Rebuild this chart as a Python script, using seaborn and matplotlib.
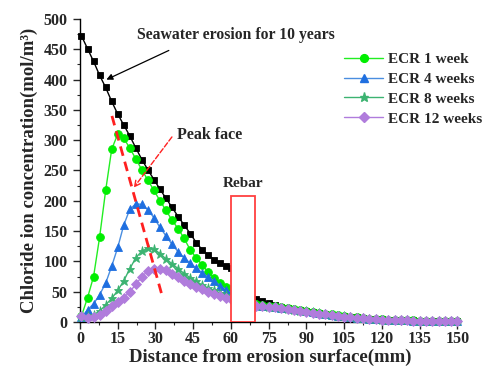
import matplotlib
matplotlib.use("Agg")
import matplotlib.pyplot as plt
import seaborn as sns
import pandas as pd
import numpy as np
from matplotlib.ticker import MultipleLocator
from matplotlib.patches import Rectangle

# ---------------- data ----------------
x_front = [0.6, 3.0, 5.4, 7.8, 10.2, 12.6, 15.0, 17.4, 19.8, 22.2, 24.6, 27.0, 29.4,
           31.8, 34.2, 36.6, 39.0, 41.4, 43.8, 46.2, 48.6, 51.0, 53.4, 55.8, 58.2, 60.0]
x_back = [70, 72.5, 75, 77.5, 80, 82.5, 85, 87.5, 90, 92.5, 95, 97.5, 100, 102.5, 105,
          107.5, 110, 112.5, 115, 117.5, 120, 122.5, 125, 127.5, 130, 132.5, 135, 137.5,
          140, 142.5, 145, 147.5, 150]

sea_front = [472, 451, 430, 407, 387, 364, 343, 325, 307, 287, 268, 251, 235,
             219, 204, 189, 174, 160, 146, 131, 119, 110, 103, 97, 92, 89]
sea_back = [38, 35, 31, 28, 25, 22.5, 20.5, 19, 17.5, 16, 14.5, 13.5, 12, 10.5, 9.5,
            8.5, 7.5, 6.5, 5.5, 5, 4.5, 4, 3.5, 3.2, 2.9, 2.6, 2.4, 2.2, 2, 1.9, 1.8, 1.7, 1.6]

w1_front = [10, 40, 75, 140, 217, 285, 310, 303, 287, 269, 251, 234, 217,
            200, 184, 168, 154, 138, 119, 106, 94, 82, 72, 64, 58, 55]
w1_back = [29, 28, 27, 26, 24.5, 23, 21.5, 20, 18.5, 17, 15.5, 14, 12.5, 11, 9.8,
           8.6, 7.6, 6.6, 5.6, 5, 4.4, 3.9, 3.4, 3.1, 2.8, 2.5, 2.3, 2.1, 1.9, 1.8, 1.7, 1.6, 1.5]

w4_front = [8, 20, 30, 45, 64, 92, 123, 160, 186, 195, 194, 185, 172,
            156, 142, 128, 116, 106, 97, 89, 81, 74, 67, 60, 53, 48]
w4_back = [28, 27, 26, 25, 23.8, 22.3, 20.8, 19.3, 17.8, 16.3, 14.8, 13.5, 12, 10.5, 9.4,
           8.3, 7.3, 6.3, 5.3, 4.8, 4.2, 3.7, 3.2, 2.9, 2.6, 2.3, 2.1, 1.9, 1.7, 1.6, 1.5, 1.4, 1.3]

w8_front = [8, 10, 12, 18, 28, 39, 52, 68, 88, 106, 117, 122, 120,
            113, 104, 96, 88, 80, 73, 67, 61, 56, 52, 48, 45, 43]
w8_back = [27.5, 26.5, 25.5, 24.5, 23.4, 21.9, 20.4, 18.9, 17.4, 15.9, 14.4, 13.3, 11.8, 10.3, 9.2,
           8.2, 7.2, 6.2, 5.2, 4.6, 4.1, 3.6, 3.1, 2.9, 2.6, 2.3, 2.1, 1.9, 1.7, 1.6, 1.5, 1.4, 1.3]

w12_front = [10, 6, 8, 12, 18, 26, 33, 40, 50, 62, 75, 84, 88,
             88, 85, 80, 74, 68, 63, 58, 54, 50, 46, 43, 40, 38]
w12_back = [27, 26, 25, 24, 23, 21.5, 20, 18.5, 17, 15.5, 14, 13, 11.5, 10, 9,
            8, 7, 6, 5, 4.5, 4, 3.5, 3, 2.8, 2.5, 2.2, 2, 1.8, 1.6, 1.5, 1.4, 1.3, 1.2]

series_names = ["Seawater erosion for 10 years", "ECR 1 week", "ECR 4 weeks",
                "ECR 8 weeks", "ECR 12 weeks"]
fronts = [sea_front, w1_front, w4_front, w8_front, w12_front]
backs = [sea_back, w1_back, w4_back, w8_back, w12_back]

rebar_x = [60, 69.5]
rebar_top = 208
peak_line_x = [12.7, 33.0]
peak_line_y = [340, 38]

# ---------------- styles ----------------
colors = ["#000000", "#00ee00", "#1f6fe0", "#3cb371", "#b07cdc"]
line_colors = ["#000000", "#22ee22", "#4a8ee0", "#3cb371", "#b07cdc"]
markers = ["s", "o", "^", "*", "D"]
msizes = [4.6, 5.6, 6.0, 6.8, 4.8]

sns.set_style("ticks")
plt.rcParams["font.family"] = ["Liberation Serif", "DejaVu Serif"]
plt.rcParams["font.weight"] = "bold"
plt.rcParams["axes.labelweight"] = "bold"

fig = plt.figure(figsize=(4.83, 3.72), dpi=100)
ax = fig.add_axes([0.1656, 0.1344, 0.7867, 0.8146])

rows = []
for name, fr, bk in zip(series_names, fronts, backs):
    for seg, (xs, ys) in enumerate([(x_front, fr), (x_back, bk)]):
        for xv, yv in zip(xs, ys):
            rows.append({"series": name, "seg": seg, "x": xv, "y": yv})
df = pd.DataFrame(rows)

handles = []
for i, name in enumerate(series_names):
    sub = df[df["series"] == name]
    for seg in [0, 1]:
        s = sub[sub["seg"] == seg]
        sns.lineplot(data=s, x="x", y="y", ax=ax, color=line_colors[i], lw=1.0,
                     marker=markers[i], markersize=msizes[i],
                     markerfacecolor=colors[i], markeredgecolor=colors[i],
                     markeredgewidth=0.6, estimator=None, sort=False,
                     legend=False, zorder=3 + i, clip_on=False)
    if i > 0:
        h, = ax.plot([], [], color=line_colors[i], lw=1.0, marker=markers[i],
                     markersize=msizes[i], markerfacecolor=colors[i],
                     markeredgecolor=colors[i], label=name)
        handles.append(h)

# rebar box
ax.add_patch(Rectangle((rebar_x[0], 0), rebar_x[1] - rebar_x[0], rebar_top,
                       facecolor="white", edgecolor="#ff4040", lw=1.3, zorder=10))
ax.text(np.mean(rebar_x), 228, "Rebar", ha="center", va="center",
        fontsize=11, fontweight="bold")

# peak face dashed line
ax.plot(peak_line_x, peak_line_y, color="#ff2020", lw=2.0, ls=(0, (3.5, 2.2)), zorder=12)
ax.annotate("", xy=(20.7, 218), xytext=(37.2, 309),
            arrowprops=dict(arrowstyle="->", color="#ff2020", lw=1.0, ls="--"), zorder=12)
ax.text(38.5, 308, "Peak face", ha="left", va="center", fontsize=11.5, fontweight="bold")

# seawater annotation
ax.annotate("", xy=(9.5, 398), xytext=(36.3, 450),
            arrowprops=dict(arrowstyle="-|>", color="black", lw=0.9,
                            mutation_scale=9), zorder=12)
ax.text(62, 474, "Seawater erosion for 10 years", ha="center", va="center",
        fontsize=11.3, fontweight="bold")

ax.set_xlim(0, 151)
ax.set_ylim(0, 500)
ax.xaxis.set_major_locator(MultipleLocator(15))
ax.xaxis.set_minor_locator(MultipleLocator(7.5))
ax.yaxis.set_major_locator(MultipleLocator(50))
ax.yaxis.set_minor_locator(MultipleLocator(25))
ax.tick_params(which="major", direction="out", length=5, width=1, labelsize=11.5, pad=4)
ax.tick_params(axis="x", which="major", pad=1.5)
ax.tick_params(which="minor", direction="out", length=2.5, width=0.8)
for lab in ax.get_xticklabels() + ax.get_yticklabels():
    lab.set_fontweight("bold")
sns.despine(ax=ax)
for sp in ["left", "bottom"]:
    ax.spines[sp].set_linewidth(1.0)
    ax.spines[sp].set_color("black")

ax.set_xlabel("Distance from erosion surface(mm)", fontsize=13.5, fontweight="bold", labelpad=1)
ax.set_ylabel("Chloride ion concentration(mol/m³)", fontsize=13.5, fontweight="bold", labelpad=4)

ax.legend(handles=handles, loc="upper right", bbox_to_anchor=(1.095, 0.935),
          frameon=False, handlelength=2.6, labelspacing=0.4,
          handletextpad=0.3, prop={"weight": "bold", "size": 11})

fig.savefig("out.png", dpi=100)
